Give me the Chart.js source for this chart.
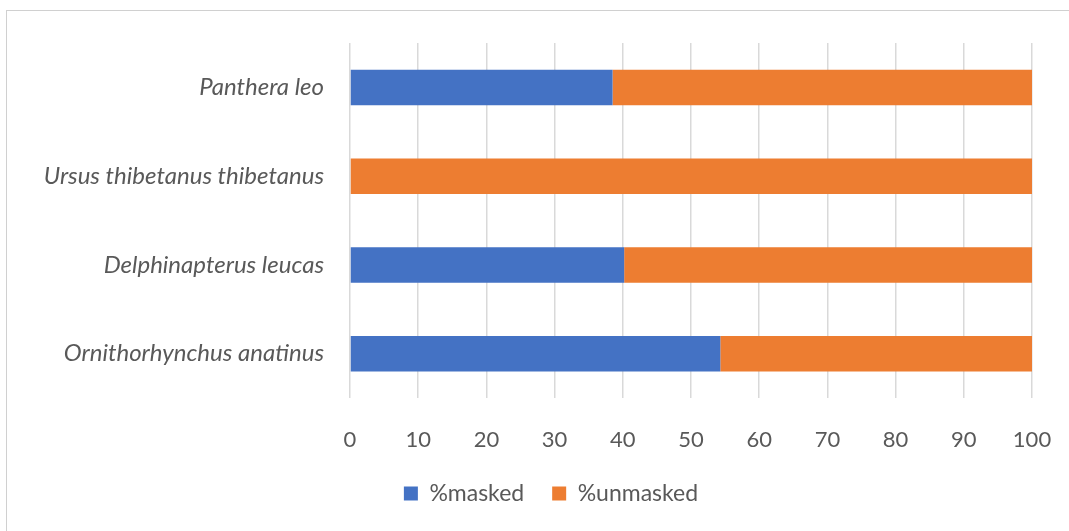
<!DOCTYPE html>
<html>
<head>
<meta charset="utf-8">
<script src="https://cdn.jsdelivr.net/npm/chart.js@4"></script>
<style>
    html, body { margin: 0; padding: 0; background: #fff; }
    #frame {
        position: absolute;
        left: 6px;
        top: 10px;
        width: 1100px;
        height: 560px;
        border: 1px solid #d0d0d0;
    }
    #wrap { position: absolute; left: 0; top: 0; width: 1069px; height: 531px; }
</style>
</head>
<body>
<div id="frame"></div>
<div id="wrap"><canvas id="chart"></canvas></div>
<script>
// Species listed top to bottom
const species = [
    'Panthera leo',
    'Ursus thibetanus thibetanus',
    'Delphinapterus leucas',
    'Ornithorhynchus anatinus'
];
const maskedPct = [38.5, 0, 40.2, 54.3];
const unmaskedPct = [61.5, 100, 59.8, 45.7];
const xTicks = [0, 10, 20, 30, 40, 50, 60, 70, 80, 90, 100];

document.addEventListener('DOMContentLoaded', function() {
    const ctx = document.getElementById('chart').getContext('2d');

    new Chart(ctx, {
        type: 'bar',
        data: {
            labels: species,
            datasets: [{
                label: '%masked',
                data: maskedPct,
                backgroundColor: '#4472C4',
                barPercentage: 0.4,
                categoryPercentage: 1
            }, {
                label: '%unmasked',
                data: unmaskedPct,
                backgroundColor: '#ED7D31',
                barPercentage: 0.4,
                categoryPercentage: 1
            }]
        },
        options: {
            indexAxis: 'y',
            responsive: true,
            maintainAspectRatio: false,
            animation: false,
            layout: {
                padding: { left: 34, right: 1, top: 43, bottom: 16 }
            },
            plugins: {
                legend: {
                    position: 'bottom',
                    labels: {
                        color: '#595959',
                        font: { family: 'Lato', size: 23 },
                        boxWidth: 14,
                        boxHeight: 14,
                        padding: 28
                    }
                },
                tooltip: { enabled: false }
            },
            scales: {
                x: {
                    stacked: true,
                    min: 0,
                    max: 100,
                    afterBuildTicks: axis => {
                        axis.ticks = xTicks.map(v => ({ value: v }));
                    },
                    afterFit: axis => {
                        axis.height = 56;
                        axis.paddingRight = 37;
                    },
                    grid: {
                        color: '#d9d9d9',
                        lineWidth: 1.5,
                        drawTicks: false
                    },
                    border: { display: false },
                    ticks: {
                        color: '#595959',
                        font: { family: 'Lato', size: 22 },
                        padding: 29
                    }
                },
                y: {
                    stacked: true,
                    afterFit: axis => { axis.width = 316; },
                    grid: { display: false },
                    border: { display: false },
                    ticks: {
                        color: '#595959',
                        font: { family: 'Lato', size: 24, style: 'italic' },
                        padding: 18
                    }
                }
            }
        }
    });
});
</script>
</body>
</html>
